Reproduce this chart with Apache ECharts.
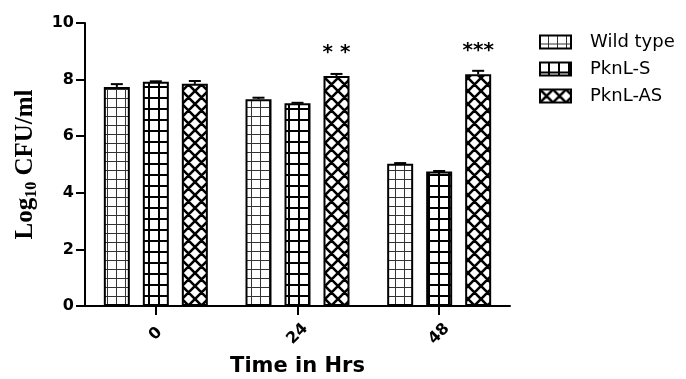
<!DOCTYPE html>
<html>
<head>
<meta charset="utf-8">
<script src="https://cdn.jsdelivr.net/npm/echarts@6/dist/echarts.min.js"></script>
<style>html,body{margin:0;padding:0;background:#fff;}#c{width:686px;height:379px;}</style>
</head>
<body>
<div id="c"></div>
<script>
const categories = ['0', '24', '48'];
const seriesNames = ['Wild type', 'PknL-S', 'PknL-AS'];
const wildType = [7.74, 7.31, 5.03];
const pknlS = [7.92, 7.16, 4.75];
const pknlAS = [7.85, 8.13, 8.19];
const wildTypeErr = [0.10, 0.05, 0.02];
const pknlSErr = [0.02, 0.02, 0.02];
const pknlASErr = [0.10, 0.07, 0.12];
const significance = ['', '* *', '***'];
const yTicks = [0, 2, 4, 6, 8, 10];

const SANS = 'DejaVu Sans, Verdana, sans-serif';
const SERIF = 'Liberation Serif, Times New Roman, serif';

function makePattern(kind) {
  const c = document.createElement('canvas');
  const ctx = c.getContext('2d');
  if (kind === 'wt') {
    c.width = 9; c.height = 9;
    ctx.fillStyle = '#fff'; ctx.fillRect(0, 0, 9, 9);
    ctx.fillStyle = '#333';
    ctx.fillRect(8, 0, 1, 9);
    ctx.fillRect(0, 8, 9, 1);
  } else if (kind === 's') {
    c.width = 10; c.height = 11;
    ctx.fillStyle = '#fff'; ctx.fillRect(0, 0, 10, 11);
    ctx.fillStyle = '#000';
    ctx.fillRect(8, 0, 2, 11);
    ctx.fillRect(0, 9, 10, 2);
  } else {
    const n = 13;
    c.width = n; c.height = n;
    ctx.fillStyle = '#fff'; ctx.fillRect(0, 0, n, n);
    ctx.strokeStyle = '#000'; ctx.lineWidth = 2.6;
    ctx.beginPath();
    for (const dx of [-n, 0, n]) {
      ctx.moveTo(dx, 0); ctx.lineTo(dx + n, n);
      ctx.moveTo(dx + n, 0); ctx.lineTo(dx, n);
    }
    ctx.stroke();
  }
  return { image: c, repeat: 'repeat' };
}

const values = [wildType, pknlS, pknlAS];
const errs = [wildTypeErr, pknlSErr, pknlASErr];
const patterns = [makePattern('wt'), makePattern('s'), makePattern('as')];
const BAR_W = 26, BAR_GAP = 0.5;

const barSeries = seriesNames.map((name, i) => ({
  name: name,
  type: 'bar',
  barWidth: BAR_W,
  barGap: (BAR_GAP * 100) + '%',
  data: values[i],
  itemStyle: { color: patterns[i], borderColor: '#000', borderWidth: 2 },
  emphasis: { disabled: true },
  label: i === 2 ? {
    show: true, position: 'top', distance: 13,
    formatter: p => significance[p.dataIndex],
    fontFamily: SANS, fontWeight: 'bold', fontSize: 20, color: '#000'
  } : { show: false },
  z: 2
}));

const errData = [];
values.forEach((arr, si) => arr.forEach((v, ci) => errData.push([ci, v, errs[si][ci], si])));

const errSeries = {
  type: 'custom',
  data: errData,
  z: 3,
  silent: true,
  renderItem: function (params, api) {
    const ci = api.value(0), v = api.value(1), e = api.value(2), si = api.value(3);
    const off = (si - 1) * BAR_W * (1 + BAR_GAP);
    const p0 = api.coord([ci, v]);
    const p1 = api.coord([ci, v + e]);
    const x = p0[0] + off;
    const style = { stroke: '#000', lineWidth: 2 };
    return {
      type: 'group',
      children: [
        { type: 'line', shape: { x1: x, y1: p0[1], x2: x, y2: p1[1] }, style: style },
        { type: 'line', shape: { x1: x - 6, y1: p1[1], x2: x + 6, y2: p1[1] }, style: style }
      ]
    };
  }
};

const chart = echarts.init(document.getElementById('c'), null, { renderer: 'canvas' });
chart.setOption({
  animation: false,
  backgroundColor: '#fff',
  grid: { left: 85, right: 176, top: 23, bottom: 73, containLabel: false, outerBoundsMode: 'none' },
  legend: {
    data: seriesNames,
    orient: 'vertical',
    left: 539,
    top: 33,
    padding: 0,
    itemWidth: 31,
    itemHeight: 13,
    itemGap: 9,
    icon: 'rect',
    selectedMode: false,
    itemStyle: { borderColor: '#000', borderWidth: 2 },
    textStyle: { fontFamily: SANS, fontSize: 18, color: '#000', padding: [0, 0, 0, 14] }
  },
  xAxis: {
    type: 'category',
    data: categories,
    name: 'Time in Hrs',
    nameLocation: 'middle',
    nameGap: 50,
    nameTextStyle: { fontFamily: SANS, fontWeight: 'bold', fontSize: 21, color: '#000' },
    axisLine: { lineStyle: { color: '#000', width: 2 } },
    axisTick: { show: true, alignWithLabel: true, length: 9, lineStyle: { color: '#000', width: 2 } },
    axisLabel: {
      rotate: 45, align: 'center', verticalAlign: 'middle', margin: 28,
      fontFamily: SANS, fontWeight: 'bold', fontSize: 16, color: '#000'
    },
    splitLine: { show: false }
  },
  yAxis: {
    type: 'value',
    min: yTicks[0],
    max: yTicks[yTicks.length - 1],
    interval: yTicks[1] - yTicks[0],
    name: '{a|Log}{b|10}{a| CFU/ml}',
    nameLocation: 'middle',
    nameGap: 45,
    nameRotate: 90,
    nameTextStyle: {
      rich: {
        a: { fontFamily: SERIF, fontWeight: 'bold', fontSize: 25, color: '#000' },
        b: { fontFamily: SERIF, fontWeight: 'bold', fontSize: 16, color: '#000', verticalAlign: 'bottom', padding: [12, 0, 0, 0] }
      }
    },
    axisLine: { show: true, lineStyle: { color: '#000', width: 2 } },
    axisTick: { show: true, length: 9, lineStyle: { color: '#000', width: 2 } },
    axisLabel: { margin: 11, fontFamily: SANS, fontWeight: 'bold', fontSize: 16, color: '#000' },
    splitLine: { show: false }
  },
  series: barSeries.concat([errSeries])
});
</script>
</body>
</html>
